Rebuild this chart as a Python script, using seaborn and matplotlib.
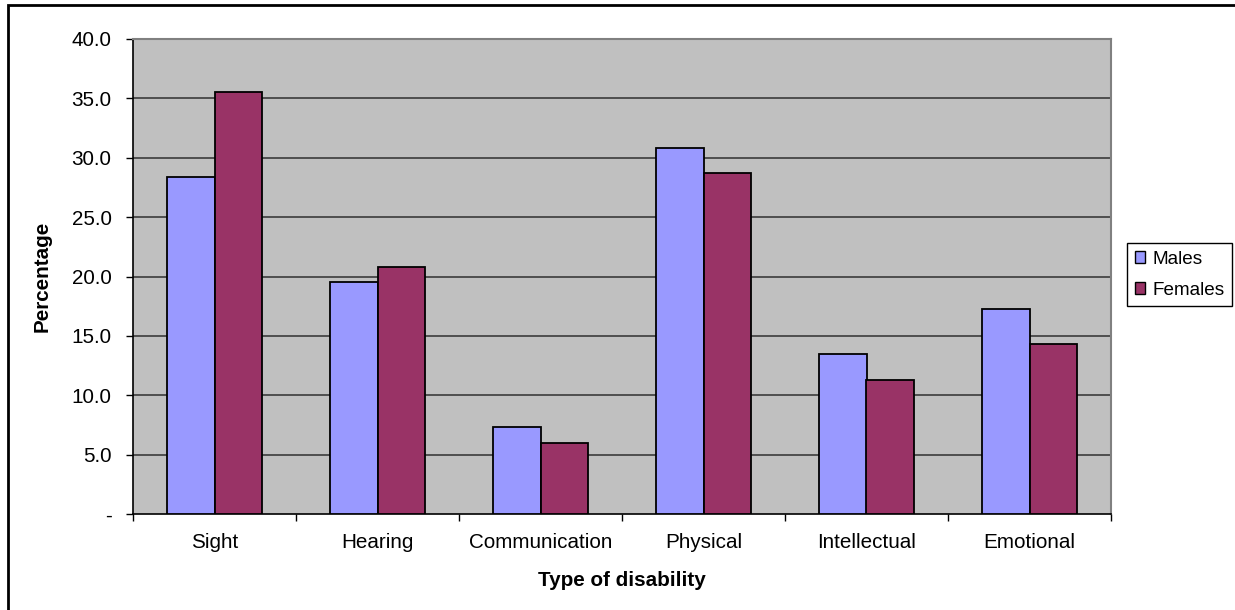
import numpy as np
import pandas as pd
import matplotlib
matplotlib.use("Agg")
import matplotlib.pyplot as plt
from matplotlib.patches import Patch, Rectangle
from matplotlib.ticker import FuncFormatter, FixedLocator
import seaborn as sns

# Share of people with each type of disability, by sex (%)
categories = ["Sight", "Hearing", "Communication", "Physical", "Intellectual", "Emotional"]
males = [28.4, 19.5, 7.3, 30.8, 13.5, 17.3]
females = [35.5, 20.8, 6.0, 28.7, 11.3, 14.3]
series = ["Males", "Females"]
colors = {"Males": "#9999FF", "Females": "#993366"}
y_ticks = [0, 5, 10, 15, 20, 25, 30, 35, 40]

df = pd.DataFrame({
    "Type of disability": categories * 2,
    "Sex": ["Males"] * len(categories) + ["Females"] * len(categories),
    "Percentage": males + females,
})

sns.set_theme(style="white")
plt.rcParams["font.family"] = ["Liberation Sans", "DejaVu Sans"]
plt.rcParams.update({
    "text.color": "black",
    "axes.labelcolor": "black",
    "xtick.color": "black",
    "ytick.color": "black",
})

fig = plt.figure(figsize=(12.35, 6.1), dpi=100)
ax = fig.add_axes([133 / 1235, 1 - 514 / 610, (1111 - 133) / 1235, (514 - 39) / 610])
ax.set_facecolor("#C0C0C0")

sns.barplot(
    data=df, x="Type of disability", y="Percentage", hue="Sex",
    hue_order=series, order=categories, palette=colors,
    width=0.58, gap=0, edgecolor="black", linewidth=1.3,
    saturation=1, legend=False, ax=ax, zorder=3,
)

# Horizontal gridlines
ax.set_ylim(0, 40)
ax.set_xlim(-0.5, len(categories) - 0.5)
for v in y_ticks[1:-1]:
    ax.axhline(v, color="#303030", linewidth=1.1, zorder=1)

ax.yaxis.set_major_locator(FixedLocator(y_ticks))
ax.yaxis.set_major_formatter(FuncFormatter(lambda v, p: "-" if v == 0 else f"{v:.1f}"))
ax.tick_params(axis="y", which="major", direction="out", length=5, width=1,
               color="black", labelcolor="black", pad=10.5, labelsize=14.9, left=True)

# Category labels at centres, tick marks between categories
ax.set_xticks(range(len(categories)))
ax.set_xticklabels(categories)
ax.set_xticks(np.arange(-0.5, len(categories), 1.0), minor=True)
ax.tick_params(axis="x", which="major", length=0, pad=14, labelsize=14.9,
               labelcolor="black")
ax.tick_params(axis="x", which="minor", direction="out", length=5, width=1,
               color="black", bottom=True)

for side in ["top", "right"]:
    ax.spines[side].set_color("#808080")
    ax.spines[side].set_linewidth(1.5)
for side in ["left", "bottom"]:
    ax.spines[side].set_color("black")
    ax.spines[side].set_linewidth(1.2)

ax.set_ylabel("Percentage", fontsize=14.9, fontweight="bold", va="center", color="black")
ax.yaxis.set_label_coords(-0.093, 0.5)
ax.set_xlabel("Type of disability", fontsize=14.9, fontweight="bold", va="center", color="black")
ax.xaxis.set_label_coords(0.5, -0.139)

handles = [Patch(facecolor=colors[s], edgecolor="black", linewidth=1, label=s) for s in series]
leg = fig.legend(
    handles=handles, loc="upper left",
    bbox_to_anchor=(1127 / 1235, 1 - 243 / 610),
    frameon=True, fancybox=False, framealpha=1, edgecolor="black",
    fontsize=13.6, handlelength=0.55, handleheight=0.55, handletextpad=0.4,
    borderpad=0.4, labelspacing=0.75, borderaxespad=0,
)
leg.get_frame().set_linewidth(1)

# Outer chart frame
fig.patches.append(Rectangle((8 / 1235, -0.1), 1.2, 1 - 5 / 610 + 0.1,
                             transform=fig.transFigure, fill=False,
                             edgecolor="black", linewidth=2))

fig.savefig("out.png", dpi=100, facecolor="white")
